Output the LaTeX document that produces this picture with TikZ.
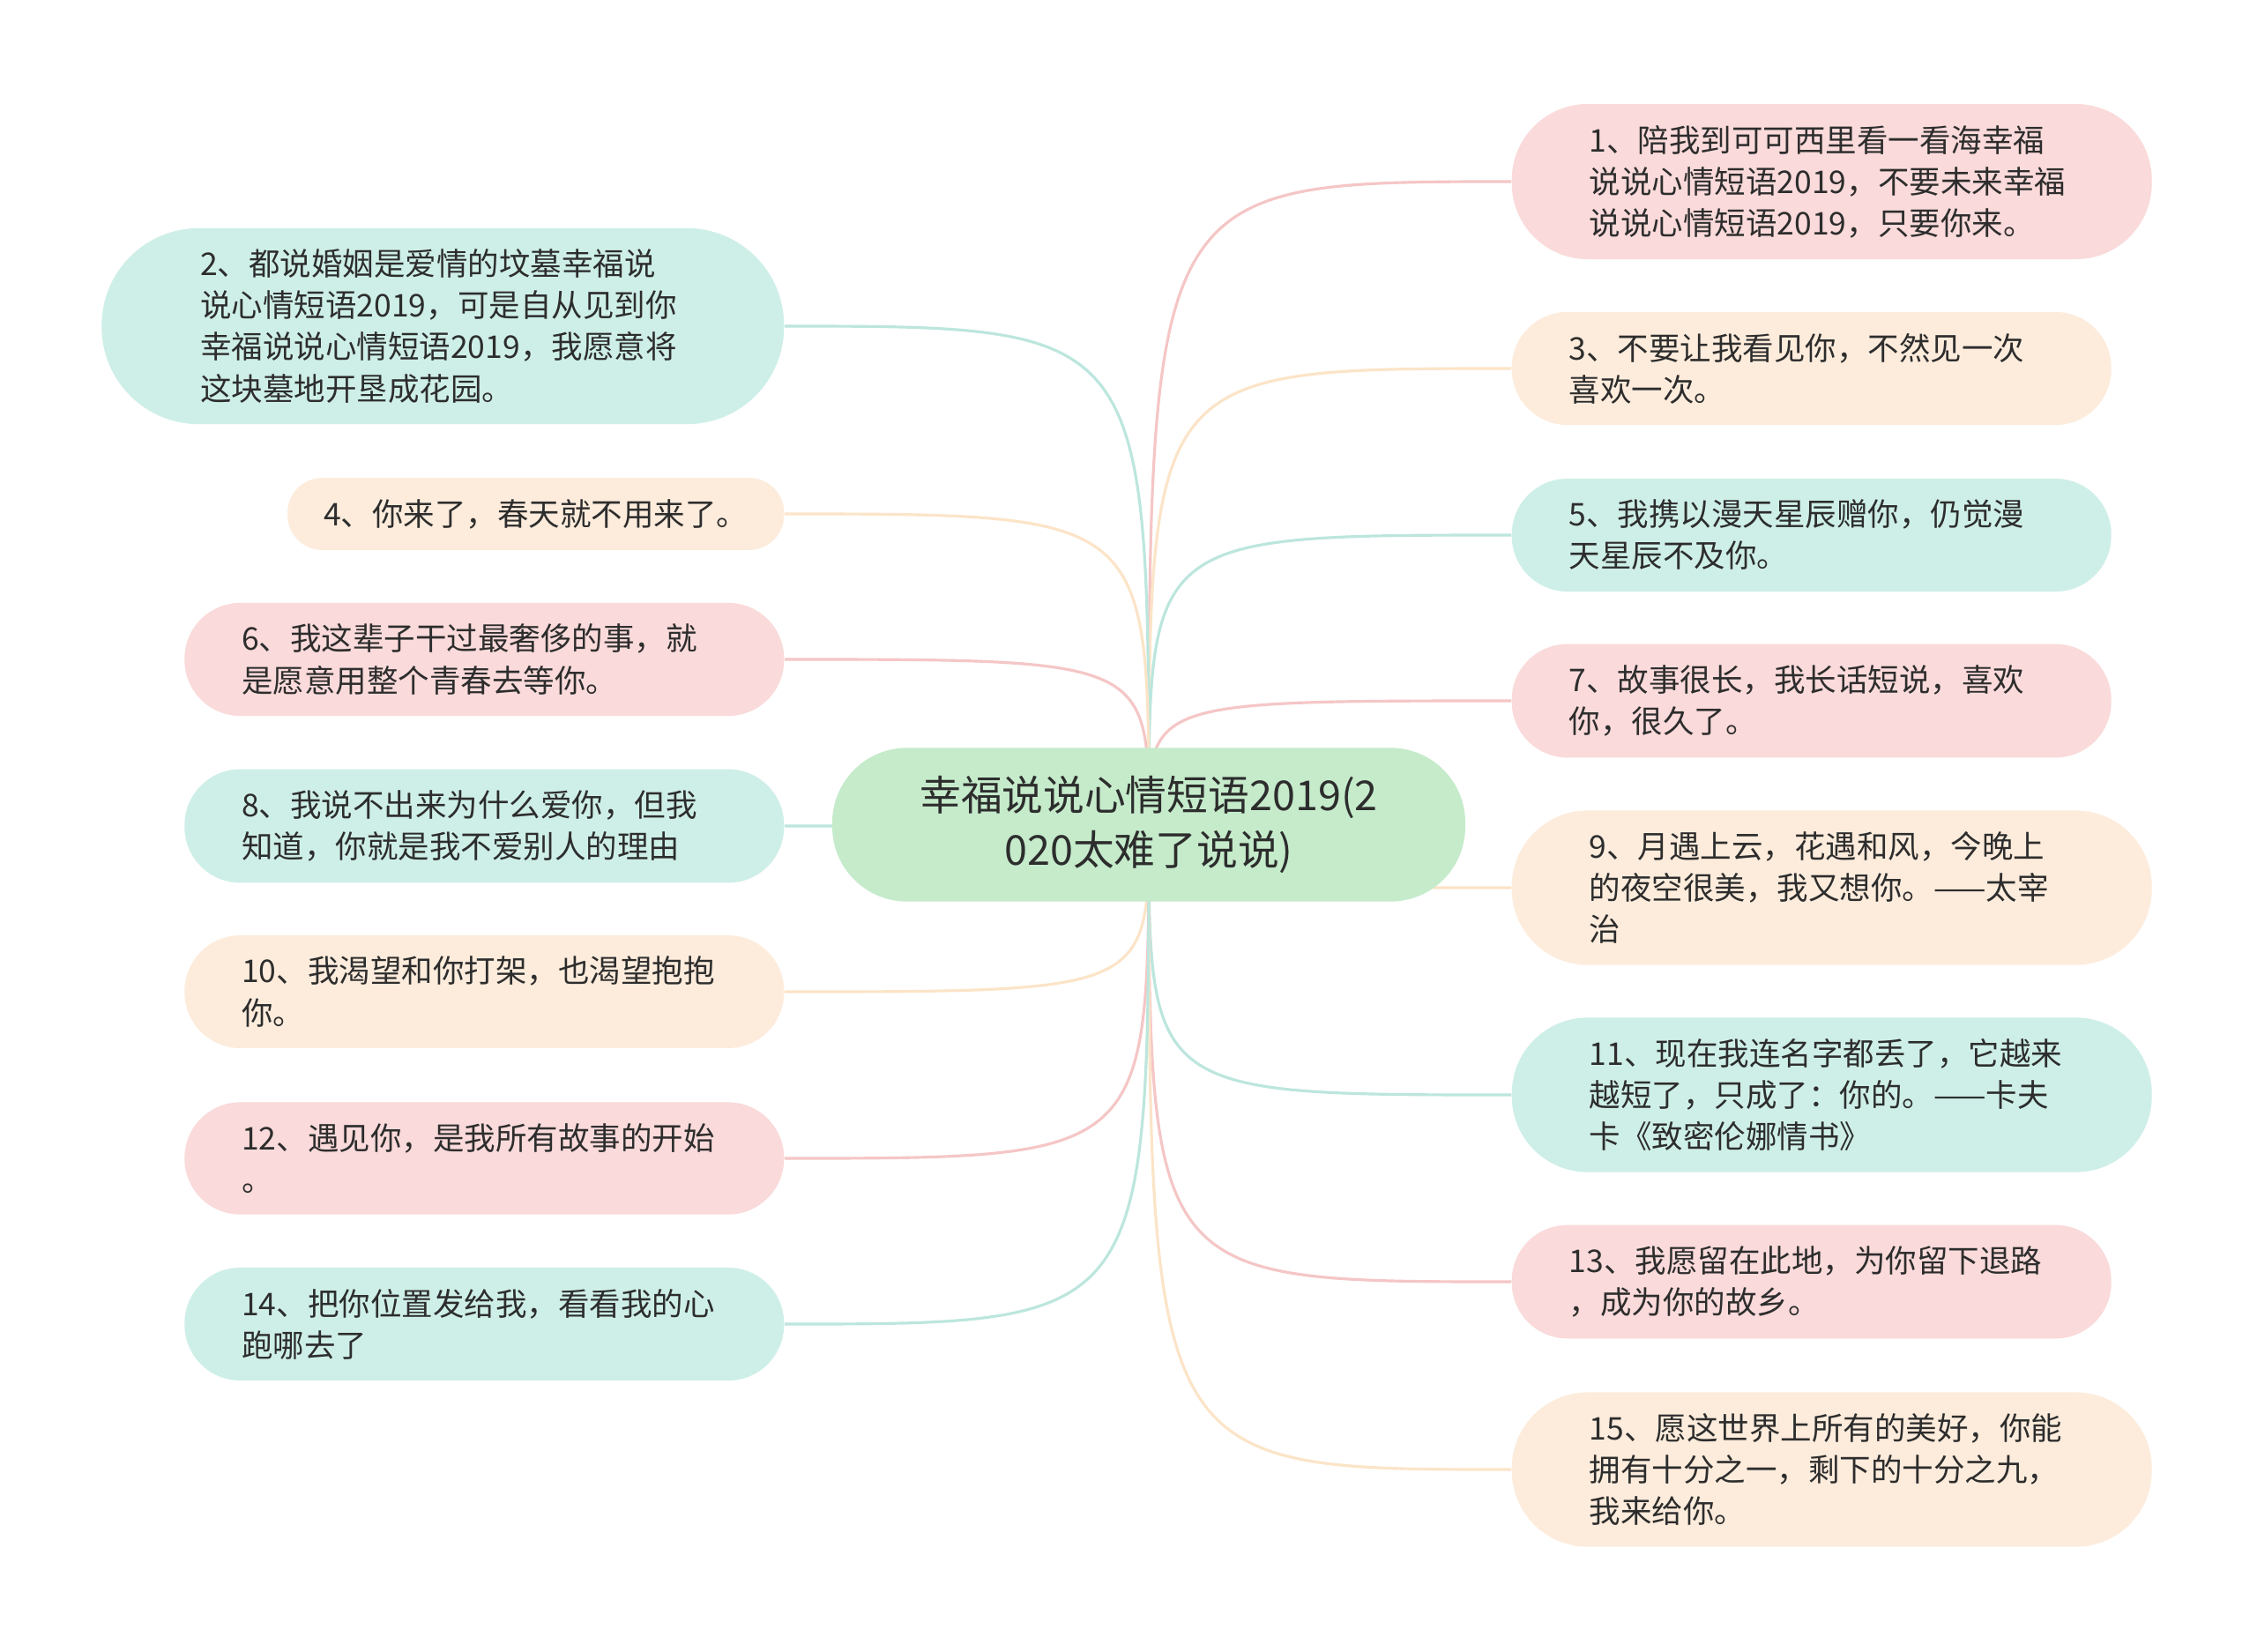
\documentclass[tikz,border=0pt]{standalone}
\usepackage{fontspec}
\usepackage{tikz}
\usepackage{xcolor}
\setmainfont{Noto Sans CJK SC}
\usetikzlibrary{positioning, backgrounds}
\definecolor{cPink}{RGB}{250,218,218}
\definecolor{cPeach}{RGB}{253,236,220}
\definecolor{cMint}{RGB}{206,239,231}
\definecolor{cGreen}{RGB}{197,235,203}
\definecolor{cPinkLine}{RGB}{245,198,198}
\definecolor{cPeachLine}{RGB}{252,228,200}
\definecolor{cMintLine}{RGB}{188,230,221}
\definecolor{cText}{RGB}{45,45,45}
\tikzset{
	% pill shape: ends are half circles, text starts where the arc ends
	pill/.style={rectangle, inner xsep=#1, rounded corners=#1-0.5pt},
	rootnode/.style={pill=0.865cm, fill=cGreen, text=cText, align=center, text width=5.45cm, inner ysep=0.32cm, font=\fontsize{13.3pt}{17.6pt}\selectfont},
	% leaves of the mind map
	leaf/.style={text=cText, align=left, inner ysep=0.24cm, font=\fontsize{10.1pt}{13.4pt}\selectfont},
	wide/.style={text width=5.5cm},
	pinkleaf/.style={leaf, wide, fill=cPink},
	peachleaf/.style={leaf, wide, fill=cPeach},
	mintleaf/.style={leaf, wide, fill=cMint},
	link/.style={line width=0.9pt},
}
\begin{document}
\begin{tikzpicture}
	\useasboundingbox (0,0) rectangle (25.6,-18.73);
	\node[rootnode] (root) at (13.03,-9.355) {幸福说说心情短语2019(2\\020太难了说说)};
	\node[pinkleaf, pill=0.88cm, anchor=west] (n1) at (17.14,-2.06) {1、陪我到可可西里看一看海幸福\\说说心情短语2019，不要未来幸福\\说说心情短语2019，只要你来。};
	\node[peachleaf, pill=0.65cm, anchor=west] (n3) at (17.14,-4.18) {3、不要让我看见你，不然见一次\\喜欢一次。};
	\node[mintleaf, pill=0.65cm, anchor=west] (n5) at (17.14,-6.07) {5、我携以漫天星辰赠你，仍觉漫\\天星辰不及你。};
	\node[pinkleaf, pill=0.65cm, anchor=west] (n7) at (17.14,-7.95) {7、故事很长，我长话短说，喜欢\\你，很久了。};
	\node[peachleaf, pill=0.88cm, anchor=west] (n9) at (17.14,-10.07) {9、月遇上云，花遇和风，今晚上\\的夜空很美，我又想你。——太宰\\治};
	\node[mintleaf, pill=0.88cm, anchor=west] (n11) at (17.14,-12.42) {11、现在我连名字都丢了，它越来\\越短了，只成了：你的。——卡夫\\卡《致密伦娜情书》};
	\node[pinkleaf, pill=0.65cm, anchor=west] (n13) at (17.14,-14.54) {13、我愿留在此地，为你留下退路\\，成为你的故乡。};
	\node[peachleaf, pill=0.88cm, anchor=west] (n15) at (17.14,-16.67) {15、愿这世界上所有的美好，你能\\拥有十分之一，剩下的十分之九，\\我来给你。};
	\node[mintleaf, pill=1.12cm, anchor=east] (n2) at (8.90,-3.70) {2、都说婚姻是爱情的坟墓幸福说\\说心情短语2019，可是自从见到你\\幸福说说心情短语2019，我愿意将\\这块墓地开垦成花园。};
	\node[leaf, fill=cPeach, pill=0.41cm, anchor=east] (n4) at (8.90,-5.83) {4、你来了，春天就不用来了。};
	\node[pinkleaf, pill=0.65cm, anchor=east] (n6) at (8.90,-7.48) {6、我这辈子干过最奢侈的事，就\\是愿意用整个青春去等你。};
	\node[mintleaf, pill=0.65cm, anchor=east] (n8) at (8.90,-9.37) {8、我说不出来为什么爱你，但我\\知道，你就是我不爱别人的理由};
	\node[peachleaf, pill=0.65cm, anchor=east] (n10) at (8.90,-11.25) {10、我渴望和你打架，也渴望抱抱\\你。};
	\node[pinkleaf, pill=0.65cm, anchor=east] (n12) at (8.90,-13.14) {12、遇见你，是我所有故事的开始\\。};
	\node[mintleaf, pill=0.65cm, anchor=east] (n14) at (8.90,-15.02) {14、把你位置发给我，看看我的心\\跑哪去了};
	\begin{scope}[on background layer]
		\fill[white] (0,0) rectangle (25.6,-18.73);
		\foreach \n/\c in {n1/cPinkLine, n3/cPeachLine, n5/cMintLine, n7/cPinkLine, n9/cPeachLine, n11/cMintLine, n13/cPinkLine, n15/cPeachLine}
			\draw[link, \c] (root.center) .. controls (root.center |- \n.west) .. (\n.west);
		\foreach \n/\c in {n2/cMintLine, n4/cPeachLine, n6/cPinkLine, n8/cMintLine, n10/cPeachLine, n12/cPinkLine, n14/cMintLine}
			\draw[link, \c] (root.center) .. controls (root.center |- \n.east) .. (\n.east);
	\end{scope}
\end{tikzpicture}
\end{document}
